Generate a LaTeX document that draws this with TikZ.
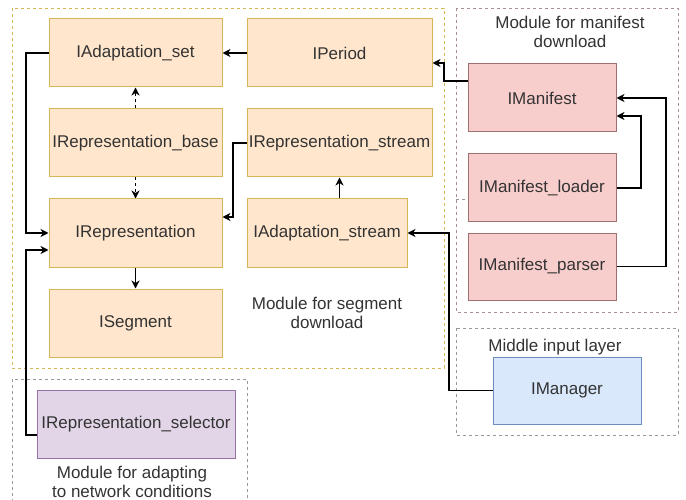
\documentclass[tikz,border=0pt]{standalone}
\usepackage{fontspec}
\setmainfont{Liberation Sans}
\usetikzlibrary{arrows.meta,calc}
\definecolor{txt}{HTML}{333333}
\definecolor{orfill}{HTML}{FFE6CC}
\definecolor{orline}{HTML}{D6B656}
\definecolor{rdfill}{HTML}{F8CECC}
\definecolor{rdline}{HTML}{A07070}
\definecolor{pufill}{HTML}{E1D5E7}
\definecolor{puline}{HTML}{9673A6}
\definecolor{blfill}{HTML}{DAE8FC}
\definecolor{blline}{HTML}{6C8EBF}
\definecolor{modgray}{HTML}{999999}
\definecolor{modred}{HTML}{A89090}
\begin{document}
\begin{tikzpicture}[x=1pt,y=-1pt,
  basebox/.style={line width=1pt, minimum height=68pt, inner sep=0pt, text=txt,
    font=\fontsize{17}{20}\selectfont},
  obox/.style={basebox, draw=orline, fill=orfill},
  rbox/.style={basebox, draw=rdline, fill=rdfill},
  pbox/.style={basebox, draw=puline, fill=pufill},
  bbox/.style={basebox, draw=blline, fill=blfill},
  modbox/.style={line width=0.8pt, dash pattern=on 3pt off 3pt},
  lbl/.style={text=txt, align=center, inner sep=0pt, font=\fontsize{17}{18.5}\selectfont},
  conn/.style={line width=1.3pt, -{Stealth[length=8pt,width=8pt,inset=2.5pt]}},
  dconn/.style={conn, dash pattern=on 3pt off 3pt}]
\useasboundingbox (0,0) rectangle (686,500);
% module frames
\draw[modbox, draw=orline] (12,8) rectangle (444,368);
\draw[modbox, draw=modred] (456,8) rectangle (678,312);
\draw[modbox, draw=modgray] (456,328) rectangle (678,435);
\draw[modbox, draw=modgray] (12,502) -- (12,379) -- (247,379) -- (247,502);
% nodes
\node[obox, minimum width=173pt] (aset) at (135.5,53) {IAdaptation\_set};
\node[obox, minimum width=185pt] (period) at (339.5,53) {IPeriod};
\node[obox, minimum width=173pt] (rbase) at (135.5,143) {IRepresentation\_base};
\node[obox, minimum width=185pt] (rstream) at (339.5,143) {IRepresentation\_stream};
\node[obox, minimum width=173pt] (rep) at (135.5,233) {IRepresentation};
\node[obox, minimum width=160pt] (astream) at (327,233) {IAdaptation\_stream};
\node[obox, minimum width=173pt] (seg) at (135.5,323) {ISegment};
\node[rbox, minimum width=148pt] (man) at (542,98) {IManifest};
\node[rbox, minimum width=148pt] (loader) at (542,188) {IManifest\_loader};
\node[rbox, minimum width=148pt, minimum height=67pt] (parser) at (542,266.5) {IManifest\_parser};
\node[bbox, minimum width=148pt, minimum height=67pt] (mgr) at (567,390.5) {IManager};
\node[pbox, minimum width=198pt] (sel) at (136,424) {IRepresentation\_selector};
% labels
\node[lbl] (lseg) at (327,313) {Module for segment\\download};
\node[lbl] (lman) at (570,32) {Module for manifest\\download};
\node[lbl] (lmid) at (555,347) {Middle input layer};
\node[lbl] (lada) at (132,482) {Module for adapting\\to network conditions};
% connectors
\draw[conn] (period.west) -- (aset.east);
\draw[dconn] (rbase.north) -- (aset.south);
\draw[dconn] (rbase.south) -- (rep.north);
\draw[conn] (rep.south) -- (seg.north);
\draw[conn] (rstream.south |- astream.north) -- (rstream.south);
\draw[conn] (aset.west) -| (26,233) -- (rep.west);
\draw[conn] ($(sel.west)+(0,11)$) -| (26,250) -- ($(rep.west)+(0,17)$);
\draw[conn] (rstream.west) -| (233,217) -- ($(rep.east)+(0,-16)$);
\draw[conn] (mgr.west) -| (449,233) -- (astream.east);
\draw[conn] ($(man.west)+(0,-17)$) -| (444,63) -- ($(period.east)+(0,10)$);
\draw[conn] (loader.east) -| (641,116) -- ($(man.east)+(0,18)$);
\draw[conn] (parser.east) -| (666,98) -- (man.east);
\draw[modbox, draw=modgray] (456,199) -- ($(loader.west)+(0,11)$);
\end{tikzpicture}
\end{document}
